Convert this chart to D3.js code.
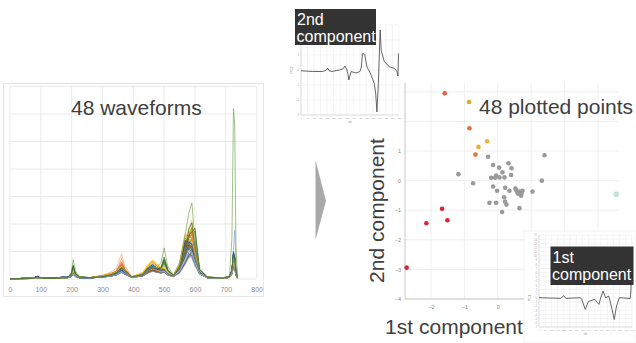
<!DOCTYPE html>
<html><head><meta charset="utf-8">
<script src="https://cdn.jsdelivr.net/npm/d3@7"></script>
<style>
body{margin:0;background:#fff}
svg{display:block}
text{font-family:"Liberation Sans",Arial,Helvetica,sans-serif}
</style>
</head><body>
<svg id="c" width="636" height="343"></svg>
<script>
// ---------- waveform data (values in hundredths of the y unit) ----------
const sampleX = [0,40,75,88,95,110,150,170,185, 198,205,212,225,260, 300,325,345,355,362,372,395,
  430,448,462,475,490,500,512,530, 550,568,580,590,600,615,640, 690,712,720,725,729,733,738];

const waveforms = [
 [1,2,3,8,5,2,2,4,5, 10,22,12,6,4, 8,12,18,25,30,22,7, 14,30,38,32,28,30,18,10, 40,110,88,75,48,18,5, 3,7,22,55,45,18,4],
 [1,2,2,5,4,2,2,3,4, 8,18,10,5,4, 10,15,22,40,55,30,8, 12,25,32,28,26,32,20,12, 38,80,120,150,85,25,6, 3,8,25,70,60,22,5],
 [1,1,2,4,3,2,2,3,4, 9,20,11,5,4, 7,10,16,22,26,20,6, 10,22,28,25,40,30,15,9, 22,55,78,85,95,25,5, 2,6,18,45,40,15,3],
 [1,2,3,6,4,2,2,4,5, 12,24,13,6,5, 12,18,26,38,45,28,8, 20,45,62,50,38,40,22,12, 45,100,175,160,95,30,7, 3,8,28,75,62,24,5],
 [1,2,3,9,6,2,3,6,6, 11,26,14,6,4, 9,14,20,28,34,24,7, 16,35,45,38,30,34,20,11, 45,135,110,95,60,22,6, 3,9,30,85,70,25,5],
 [1,2,2,6,4,2,2,4,5, 14,40,18,7,5, 9,13,22,32,40,30,8, 14,32,40,35,34,55,25,12, 38,85,120,150,95,28,6, 3,8,30,80,65,24,5],
 [1,1,2,5,4,2,2,3,4, 9,18,10,5,4, 7,11,16,24,28,20,6, 12,40,34,28,25,28,16,9, 25,58,85,95,110,28,5, 2,7,22,60,50,18,4],
 [1,2,3,5,4,2,2,4,5, 10,20,11,5,4, 10,14,20,30,36,24,7, 13,28,35,30,27,30,18,10, 42,118,92,85,55,20,5, 3,7,24,62,52,20,4],
 [1,1,2,4,3,2,2,3,4, 8,16,9,5,4, 7,10,15,20,24,18,6, 11,24,30,26,22,25,15,9, 26,60,88,82,55,18,5, 2,6,18,48,40,15,3],
 [1,2,3,6,4,2,2,4,5, 11,22,12,6,5, 11,16,24,35,42,28,8, 15,34,44,38,30,34,20,11, 35,80,115,145,85,26,6, 3,8,26,70,58,22,5],
 [1,2,3,10,6,3,3,8,6, 10,20,11,5,4, 8,12,18,26,30,22,7, 14,30,38,33,27,30,18,10, 30,70,100,108,130,30,5, 3,8,26,72,60,22,5],
 [1,2,3,7,5,2,2,4,5, 15,45,20,7,5, 9,13,22,34,42,30,8, 14,30,38,34,36,60,28,12, 42,100,160,150,90,28,6, 3,8,30,82,66,24,5],
 [1,2,2,5,4,2,2,3,4, 9,19,10,5,4, 8,12,17,24,28,20,6, 15,34,44,36,28,30,18,10, 40,115,85,80,55,20,5, 3,7,22,58,48,18,4],
 [1,2,3,6,4,2,2,4,5, 10,22,12,6,5, 12,20,30,55,75,40,9, 14,30,38,33,28,30,18,10, 42,100,150,175,90,28,6, 3,8,26,70,58,22,5],
 [1,1,2,4,3,2,2,3,4, 8,17,9,5,4, 7,10,15,21,25,18,6, 10,22,28,25,22,25,15,9, 24,58,85,80,52,17,5, 2,6,18,45,38,14,3],
 [1,2,3,6,4,2,2,4,5, 11,23,12,6,5, 12,18,26,36,44,28,8, 22,50,68,55,40,40,22,12, 55,165,140,120,80,28,7, 3,9,30,80,66,25,5],
 [1,2,3,8,5,2,3,5,6, 10,22,12,6,4, 9,13,19,27,32,23,7, 18,40,52,42,32,34,20,11, 32,78,110,118,140,30,6, 3,9,32,95,80,28,6],
 [1,2,2,6,4,2,2,4,5, 13,35,16,6,5, 9,14,22,30,38,28,8, 14,30,38,34,34,50,24,12, 38,90,140,130,82,26,6, 3,8,28,76,62,23,5],
 [1,2,3,9,5,2,3,5,5, 10,21,11,5,4, 8,12,18,25,30,22,7, 16,36,46,38,30,32,19,10, 30,75,105,130,78,22,5, 3,8,28,80,66,24,5],
 [1,2,3,5,4,2,2,4,5, 10,21,11,5,4, 11,16,25,40,52,32,8, 13,28,36,31,45,38,18,10, 45,140,110,100,65,24,6, 3,8,26,68,56,21,5],
 [1,1,2,4,3,2,2,3,4, 8,17,9,5,4, 7,10,15,21,25,18,6, 11,23,29,26,22,25,15,9, 22,55,80,88,100,24,5, 2,6,18,46,38,15,3],
 [1,2,3,6,4,2,2,4,5, 11,22,12,6,5, 12,17,25,36,44,28,8, 18,42,56,46,35,36,20,11, 42,98,160,145,88,28,6, 3,8,28,74,60,23,5],
 [1,2,3,8,5,2,3,6,6, 10,21,12,5,4, 8,12,18,26,31,22,7, 15,33,42,36,29,32,19,10, 44,125,100,95,62,22,5, 3,8,28,78,64,24,5],
 [1,2,2,7,5,2,2,4,5, 14,42,18,7,5, 9,14,22,33,40,30,8, 14,31,39,35,38,65,30,12, 40,95,150,185,100,29,6, 3,8,30,84,68,25,5],
 [1,2,2,5,4,2,2,3,4, 9,19,10,5,4, 8,11,17,23,27,20,6, 14,32,40,34,27,29,17,10, 28,68,102,95,60,20,5, 3,7,22,58,48,18,4],
 [1,2,3,6,4,2,2,4,5, 10,22,12,6,5, 14,24,38,70,93,48,10, 14,30,38,33,28,30,18,10, 50,150,175,150,90,30,7, 3,8,26,70,58,22,5],
 [1,1,2,4,3,2,2,3,4, 8,16,9,5,4, 7,10,15,20,24,18,6, 10,22,28,25,21,24,15,9, 20,50,75,82,95,22,5, 2,6,17,44,36,14,3],
 [1,2,3,6,4,2,2,4,5, 11,23,12,6,5, 12,18,27,38,46,29,8, 24,55,70,58,42,42,23,12, 48,110,185,215,115,32,7, 3,9,30,82,68,25,5],
 [1,2,3,7,5,2,3,5,5, 10,21,11,5,4, 8,12,18,25,30,22,7, 15,34,44,37,29,31,18,10, 33,78,118,108,68,22,5, 3,9,34,110,178,60,10],
 [1,2,2,6,4,2,2,4,5, 13,36,16,6,5, 9,13,21,30,37,27,8, 14,30,38,34,33,48,24,12, 30,75,115,120,150,32,6, 3,8,28,76,62,23,5],
 [1,2,3,9,6,2,3,6,6, 10,21,11,5,4, 8,12,18,25,30,22,7, 16,36,46,38,30,33,19,10, 46,130,105,100,62,22,6, 3,9,30,90,75,26,6],
 [1,2,3,5,4,2,2,4,5, 10,20,11,5,4, 10,15,22,32,38,26,7, 13,28,35,30,26,29,17,10, 34,80,125,115,70,23,5, 3,8,24,64,54,20,4],
 [1,1,2,4,3,2,2,3,4, 8,17,9,5,4, 7,10,15,21,25,18,6, 11,24,30,26,22,25,15,9, 24,58,85,100,60,18,5, 2,6,18,48,40,15,3],
 [1,2,3,6,4,2,2,4,5, 11,22,12,6,5, 11,16,24,34,40,27,8, 16,36,46,40,31,34,20,11, 48,140,115,105,70,26,6, 3,8,26,72,58,22,5],
 [1,2,3,9,6,3,3,7,6, 10,21,11,5,4, 8,12,18,26,30,22,7, 15,33,42,36,29,32,19,10, 36,88,135,125,78,24,6, 3,9,30,95,78,27,6],
 [1,2,3,7,5,2,2,4,5, 16,50,22,8,5, 9,14,23,34,42,31,8, 14,31,40,36,40,70,32,13, 46,110,180,205,110,32,7, 3,9,32,90,72,26,5],
 [1,2,3,8,5,2,3,5,5, 10,21,11,5,4, 8,12,18,26,31,22,7, 17,38,50,40,31,33,19,10, 30,72,110,118,138,30,5, 3,8,28,82,68,25,5],
 [1,2,3,6,4,2,2,4,5, 10,22,12,6,5, 12,19,28,48,62,36,8, 14,30,38,33,28,31,18,10, 50,150,130,115,75,26,6, 3,8,26,70,58,22,5],
 [1,1,2,4,3,2,2,3,4, 8,17,9,5,4, 7,10,15,21,25,18,6, 11,23,29,26,22,25,15,9, 25,60,90,84,54,18,5, 2,6,18,46,38,15,3],
 [1,2,3,6,4,2,2,4,5, 11,23,12,6,5, 12,18,26,37,45,28,8, 20,46,62,50,38,38,21,11, 42,100,160,190,100,30,7, 3,8,28,76,62,24,5],
 [1,2,3,9,6,2,3,6,6, 10,22,12,6,4, 9,13,19,27,32,23,7, 18,40,52,42,32,34,20,11, 48,142,120,110,72,26,6, 3,9,32,100,82,28,6],
 [1,2,2,7,5,2,2,4,5, 14,40,18,7,5, 9,14,22,33,41,30,8, 14,31,40,36,42,80,35,13, 38,95,150,160,175,34,7, 3,9,30,86,70,25,5],
 [1,2,2,5,4,2,2,3,4, 9,19,10,5,4, 8,11,17,23,27,20,6, 13,30,38,33,26,28,17,10, 30,70,105,98,62,20,5, 3,7,22,60,50,18,4],
 [1,2,3,6,4,2,2,4,5, 10,22,12,6,5, 11,17,26,42,55,32,8, 14,30,38,33,28,30,18,10, 38,90,140,168,92,28,6, 3,8,26,70,58,22,5],
 [1,2,3,6,4,2,2,4,5, 11,23,12,6,5, 12,18,26,36,44,28,8, 22,50,66,54,40,40,22,12, 52,160,150,135,85,30,7, 3,8,28,78,64,24,5],
 [1,2,3,10,6,3,3,8,6, 10,21,11,5,4, 8,12,18,26,30,22,7, 16,36,46,38,30,33,19,10, 36,88,138,128,80,25,6, 3,9,30,92,76,27,6],
 [1,2,3,6,4,2,2,4,5, 20,70,30,8,5, 10,15,24,35,42,30,8, 15,33,42,40,60,113,45,15, 60,160,240,277,140,40,8, 4,12,150,620,560,120,10],
 [1,2,2,7,5,2,2,4,5, 15,48,20,7,5, 9,14,23,34,42,31,8, 14,31,40,36,40,72,32,13, 40,100,160,170,185,34,7, 3,9,32,88,72,26,5]
];

const waveColors = [
 "#5B9BD5","#ED7D31","#A5A5A5","#FFC000","#4472C4","#70AD47",
 "#255E91","#9E480E","#636363","#997300","#264478","#43682B",
 "#7CAFDD","#F1975A","#B7B7B7","#FFCD33","#698ED0","#8CC168",
 "#327DC2","#D26012","#848484","#CC9A00","#3A5E9C","#5A8A39",
 "#9DC3E6","#F4B183","#C9C9C9","#FFD966","#8FAADC","#A9D18E",
 "#1F4E79","#843C0C","#525252","#7F6000","#203864","#385723",
 "#2E75B6","#C55A11","#7B7B7B","#BF9000","#2F5597","#548235",
 "#BDD7EE","#ED7D31","#FFC000","#4472C4","#7FAF5E","#43682B"
];
const waveTicks = [0,100,200,300,400,500,600,700,800];
const waveGrid = [0,100,200,300,400,500,600,700];

// ---------- component scores of the 48 waveforms ----------
const score1 = [-0.29,-0.14,0.04,0.32,0.41,0.14,0.40,-0.05,-0.20,-0.08,0.05,0.20,-0.74,-0.14,-0.02,0.22,0.35,0.53,0.59,0.65,
  0.71,0.74,0.62,0.70,1.04,1.32,1.40,0.19,0.22,0.26,-0.25,-0.05,0.13,0.65,-1.18,0.68,0.56,
  3.55,
  -1.59,-0.86,-0.85,-0.58,-0.32,-0.67,-1.67,-2.14,-1.51,-2.73];
const score2 = [0.81,0.53,0.44,0.59,0.42,0.28,0.19,0.17,0.10,0.10,0.11,0.11,-0.09,-0.20,-0.34,-0.24,-0.34,-0.27,-0.41,-0.37,
  -0.43,-0.34,-0.45,-0.51,-0.37,0.00,0.86,-0.56,-0.71,-0.81,-0.75,-0.75,-1.06,-0.93,0.22,-0.40,-0.33,
  -0.46,
  2.95,2.66,1.77,1.14,1.33,0.88,-0.95,-1.44,-1.34,-2.94];
const scoreColor = [
  "#9a9a9a","#9a9a9a","#9a9a9a","#9a9a9a","#9a9a9a","#9a9a9a","#9a9a9a","#9a9a9a","#9a9a9a","#9a9a9a",
  "#9a9a9a","#9a9a9a","#9a9a9a","#9a9a9a","#9a9a9a","#9a9a9a","#9a9a9a","#9a9a9a","#9a9a9a","#9a9a9a",
  "#9a9a9a","#9a9a9a","#9a9a9a","#9a9a9a","#9a9a9a","#9a9a9a","#9a9a9a","#9a9a9a","#9a9a9a","#9a9a9a",
  "#9a9a9a","#9a9a9a","#9a9a9a","#9a9a9a","#9a9a9a","#9a9a9a","#9a9a9a",
  "#bfe3d9",
  "#e8603c","#e3a62f","#e96a40","#e8b02e","#e6b533","#ec7535","#e02232","#e02232","#e02232","#e02232"];
const scoreGridY = [-4,-3,-2,-1,0,1,2,3];
const scoreGridX = [-2,-1,0,1,2,3];
const scoreLabelsY = [-4,-3,-2,-1,0,1];
const scoreLabelsX = [-2,-1,0];

// ---------- loading curves ----------
const load2X = [0,90,165,195,204,215,235,295,325,336,350,360,366,383,421,451,462,470,487,505,530,561,572,581,592,600,606,614,638,676,714,735,742,746];
const load2Y = [-0.05,-0.1,-0.1,0,0.12,-0.05,-0.1,0,0.1,0.27,0.05,-0.3,-0.67,-0.1,-0.2,-0.1,0.2,1.1,1.05,0.2,-0.2,-0.9,-1.6,-2.8,-0.9,1.2,2.67,1.3,0.55,0.22,0.11,-0.1,-0.4,1.1];
const load1X = [0,177,198,216,334,345,373,398,450,483,500,516,537,563,589,607,625,648,700,735,742,746];
const load1Y = [0,-0.15,0.5,-0.15,0,-0.4,-2.8,-0.9,-0.4,-1.6,0.2,1.6,0,0.4,-2.8,-5.2,-2,0,-0.1,-0.2,2,10];
const loadTicksX = d3.range(0,751,50);

const svg = d3.select("#c");
const txt = "#404040";

// ================= waveform panel =================
const wx = d3.scaleLinear().domain([0,800]).range([10,256.6]);
const wy = d3.scaleLinear().domain([0,700]).range([279,86.5]);
const gW = svg.append("g");
gW.append("rect").attr("x",3.5).attr("y",83.5).attr("width",260).attr("height",213)
  .attr("fill","#fff").attr("stroke","#e6e6e6");
gW.append("g").selectAll("line").data(waveGrid).join("line")
  .attr("x1",wx(0)).attr("x2",wx(800)).attr("y1",d=>wy(d)).attr("y2",d=>wy(d))
  .attr("stroke","#e4e4e4").attr("stroke-width",0.8);
gW.append("g").selectAll("line").data(waveTicks).join("line")
  .attr("x1",d=>wx(d)).attr("x2",d=>wx(d)).attr("y1",wy(0)).attr("y2",wy(700))
  .attr("stroke","#e4e4e4").attr("stroke-width",0.8);
const wLine = d3.line().x((d,i)=>wx(sampleX[i])).y(d=>wy(d));
gW.append("g").selectAll("path").data(waveforms).join("path")
  .attr("d",wLine).attr("fill","none")
  .attr("stroke",(d,i)=>waveColors[i]).attr("stroke-width",0.9).attr("stroke-opacity",0.85)
  .attr("stroke-linejoin","round");
const wAxis = gW.append("g").attr("transform",`translate(0,${wy(0)})`)
  .call(d3.axisBottom(wx).tickValues(waveTicks).tickSize(0).tickPadding(8));
wAxis.select(".domain").remove();
wAxis.selectAll("text").attr("fill","#8c8c8c").attr("font-size",7);
gW.append("text").attr("x",71).attr("y",115).attr("font-size",21).attr("fill",txt).text("48 waveforms");

// ================= arrow =================
svg.append("path").attr("d","M315.5,160 L326,201 L315.5,240 Z").attr("fill","#a9a9a9");

// ================= score plot =================
const sx = d3.scaleLinear().domain([-2.78,3.62]).range([405,618.6]);
const sy = d3.scaleLinear().domain([-4,3.3]).range([299,83]);
const gS = svg.append("g");
gS.append("g").selectAll("line").data(scoreGridY).join("line")
  .attr("x1",sx(-2.78)).attr("x2",sx(3.62)).attr("y1",d=>sy(d)).attr("y2",d=>sy(d))
  .attr("stroke","#ebebeb").attr("stroke-width",0.8);
gS.append("g").selectAll("line").data(scoreGridX).join("line")
  .attr("x1",d=>sx(d)).attr("x2",d=>sx(d)).attr("y1",sy(-4)).attr("y2",sy(3.3))
  .attr("stroke","#ebebeb").attr("stroke-width",0.8);
gS.append("line").attr("x1",sx(-2.78)).attr("x2",sx(-2.78)).attr("y1",sy(-4)).attr("y2",sy(3.3))
  .attr("stroke","#c8c8c8");
gS.append("line").attr("x1",sx(-2.78)).attr("x2",sx(3.62)).attr("y1",sy(-4)).attr("y2",sy(-4))
  .attr("stroke","#c8c8c8");
const ayS = gS.append("g").attr("transform",`translate(${sx(-2.78)},0)`)
  .call(d3.axisLeft(sy).tickValues(scoreLabelsY).tickSize(0).tickPadding(4).tickFormat(d3.format("d")));
ayS.select(".domain").remove();
ayS.selectAll("text").attr("fill","#888").attr("font-size",5.5);
const axS = gS.append("g").attr("transform",`translate(0,${sy(-4)})`)
  .call(d3.axisBottom(sx).tickValues(scoreLabelsX).tickSize(0).tickPadding(6).tickFormat(d3.format("d")));
axS.select(".domain").remove();
axS.selectAll("text").attr("fill","#888").attr("font-size",5.5);
gS.append("g").selectAll("circle").data(score1).join("circle")
  .attr("cx",d=>sx(d)).attr("cy",(d,i)=>sy(score2[i])).attr("r",(d,i)=>i===37?2.8:2.3)
  .attr("fill",(d,i)=>scoreColor[i]);
gS.append("text").attr("x",479).attr("y",114).attr("font-size",21).attr("fill",txt).text("48 plotted points");
gS.append("text").attr("transform","translate(384,210.5) rotate(-90)").attr("text-anchor","middle")
  .attr("font-size",21).attr("fill",txt).text("2nd component");
gS.append("text").attr("x",454).attr("y",334).attr("text-anchor","middle")
  .attr("font-size",21).attr("fill",txt).text("1st component");

// ================= loading inset helper =================
function inset(o){
  const g = svg.append("g");
  g.append("rect").attr("x",o.box[0]).attr("y",o.box[1]).attr("width",o.box[2]).attr("height",o.box[3])
    .attr("fill","#fff").attr("stroke",o.frame||"none").attr("stroke-width",0.6);
  const x = d3.scaleLinear().domain([0,750]).range(o.xr);
  const y = d3.scaleLinear().domain(o.yd).range(o.yr);
  const yt = d3.range(o.yd[0], o.yd[1]+0.001, 1);
  g.append("g").selectAll("line").data(yt).join("line")
    .attr("x1",o.xr[0]).attr("x2",o.xr[1]).attr("y1",d=>y(d)).attr("y2",d=>y(d))
    .attr("stroke","#ededed").attr("stroke-width",0.6);
  g.append("g").selectAll("line").data(loadTicksX).join("line")
    .attr("x1",d=>x(d)).attr("x2",d=>x(d)).attr("y1",o.yr[0]).attr("y2",o.yr[1])
    .attr("stroke","#ededed").attr("stroke-width",0.6);
  g.append("line").attr("x1",o.xr[0]).attr("x2",o.xr[0]).attr("y1",o.yr[0]).attr("y2",o.yr[1]).attr("stroke","#cfcfcf").attr("stroke-width",0.6);
  g.append("line").attr("x1",o.xr[0]).attr("x2",o.xr[1]).attr("y1",o.yr[0]).attr("y2",o.yr[0]).attr("stroke","#cfcfcf").attr("stroke-width",0.6);
  const ax = g.append("g").attr("transform",`translate(0,${o.yr[0]})`)
    .call(d3.axisBottom(x).tickValues(loadTicksX).tickSize(0).tickPadding(2.5));
  ax.select(".domain").remove();
  ax.selectAll("text").attr("fill","#aaa").attr("font-size",2.4);
  const ay = g.append("g").attr("transform",`translate(${o.xr[0]},0)`)
    .call(d3.axisLeft(y).tickValues(o.ylabels).tickSize(0).tickPadding(2).tickFormat(d3.format("d")));
  ay.select(".domain").remove();
  ay.selectAll("text").attr("fill","#aaa").attr("font-size",2.8);
  g.append("text").attr("x",(o.xr[0]+o.xr[1])/2).attr("y",o.yr[0]+8).attr("text-anchor","middle")
    .attr("font-size",3).attr("fill","#999").text("idx");
  g.append("text").attr("transform",`translate(${o.xr[0]-8},${y(0)}) rotate(-90)`).attr("text-anchor","middle")
    .attr("font-size",3.5).attr("fill","#999").text(o.ylab);
  g.append("path").datum(o.ys)
    .attr("d", d3.line().x((d,i)=>x(o.xs[i])).y(d=>y(d)))
    .attr("fill","none").attr("stroke","#555").attr("stroke-width",0.9).attr("stroke-linejoin","round");
  const lb = o.label;
  g.append("rect").attr("x",lb[0]).attr("y",lb[1]).attr("width",lb[2]).attr("height",lb[3]).attr("fill","#333");
  g.append("text").attr("x",lb[0]+2).attr("y",lb[1]+16).attr("font-size",16).attr("fill","#fff").text(o.l1);
  g.append("text").attr("x",lb[0]+1.5).attr("y",lb[1]+33).attr("font-size",16).attr("fill","#fff").text("component");
}

inset({box:[287,3,116,125], xr:[301,399], yd:[-3,3], yr:[115,25], ylabels:[-3,-2,-1,0,1],
  xs:load2X, ys:load2Y, ylab:"PC2", label:[295,9,81,36], l1:"2nd"});
inset({box:[524,231,112,112], frame:"#e6e6e6", xr:[539,632], yd:[-7,15], yr:[327,235],
  ylabels:d3.range(-7,16,1),
  xs:load1X, ys:load1Y, ylab:"PC1", label:[550.5,246.5,83,38.5], l1:"1st"});
</script>
</body></html>
